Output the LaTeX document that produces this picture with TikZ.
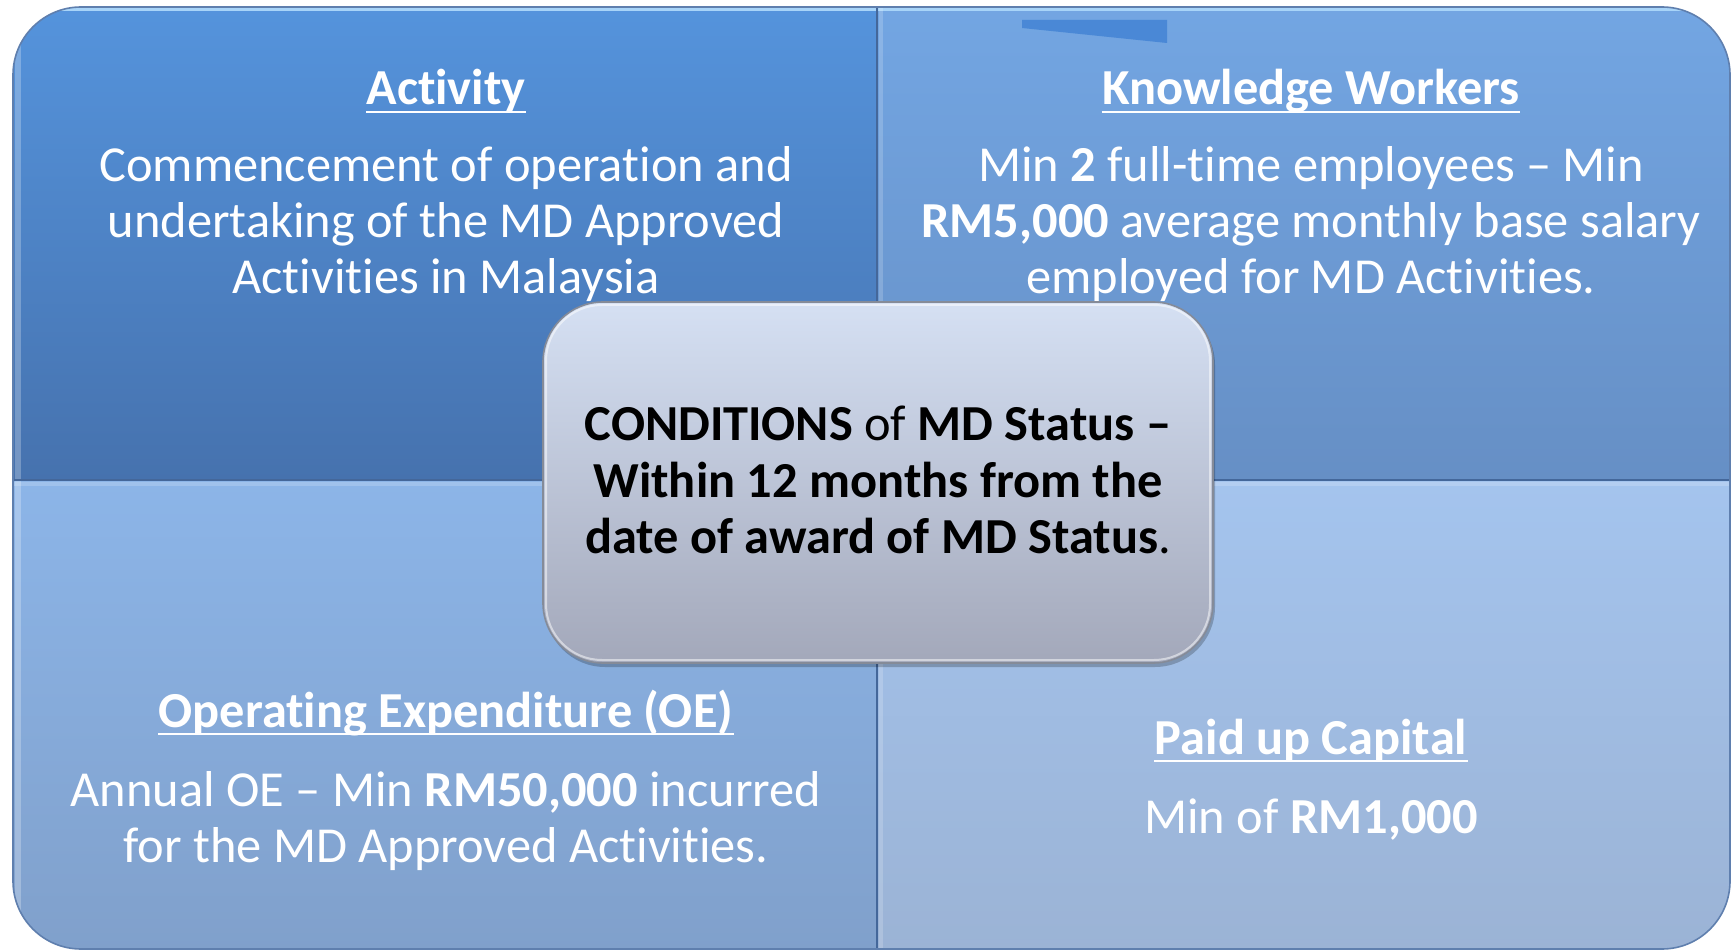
\documentclass[tikz,border=0pt]{standalone}
\usepackage{fontspec}
\setmainfont[Ligatures=NoCommon]{Carlito}
\definecolor{tlTop}{HTML}{5594DD}
\definecolor{tlBot}{HTML}{4672AE}
\definecolor{trTop}{HTML}{73A6E3}
\definecolor{trBot}{HTML}{668FC5}
\definecolor{blTop}{HTML}{8CB5E8}
\definecolor{blBot}{HTML}{80A0CB}
\definecolor{brTop}{HTML}{A4C4EE}
\definecolor{brBot}{HTML}{9BB3D5}
\definecolor{tabBlue}{HTML}{4A88D6}
\definecolor{dividerBlue}{HTML}{44679A}
\definecolor{rimBlue}{HTML}{5F7FAE}
\definecolor{glowBlue}{HTML}{A8D4F8}
\definecolor{ctrTop}{HTML}{D5E0F3}
\definecolor{ctrBot}{HTML}{A3A8BA}
\definecolor{ctrEdge}{HTML}{858B98}
\begin{document}
\begin{tikzpicture}[x=0.5pt,y=-0.5pt,
  body/.style={anchor=base, inner sep=0pt, text=white,
    font=\fontsize{25.2}{28}\selectfont},
  head/.style={body, font=\fontsize{25.2}{28}\selectfont\bfseries},
  centre/.style={anchor=base, inner sep=0pt, text=black,
    font=\fontsize{25.2}{28}\selectfont},
  ulline/.style={white, line width=1pt},
  divider/.style={dividerBlue, line width=1pt}]
\useasboundingbox (0,0) rectangle (1731,952);
\fill[white] (0,0) rectangle (1731,952);

% four shaded quadrants inside the rounded outer panel
\begin{scope}
  \clip[rounded corners=34pt] (13,7) rectangle (1730,949);
  \shade[top color=tlTop, bottom color=tlBot] (0,0) rectangle (877,480);
  \shade[top color=trTop, bottom color=trBot] (877,0) rectangle (1731,480);
  \shade[top color=blTop, bottom color=blBot] (0,480) rectangle (877,952);
  \shade[top color=brTop, bottom color=brBot] (877,480) rectangle (1731,952);
  % small tab near the top edge
  \fill[tabBlue] (1022,20) -- (1167,20) -- (1167,43) -- (1022,28) -- cycle;
  % bevel highlights
  \draw[glowBlue, line width=1.5pt] (0,10) -- (1731,10);
  \draw[white, opacity=0.25, line width=3pt] (18,0) -- (18,952);
  \draw[white, opacity=0.18, line width=2pt] (0,484) -- (1731,484);
  \draw[white, opacity=0.18, line width=2pt] (881,0) -- (881,952);
  % dividers
  \draw[divider] (877,0) -- (877,952);
  \draw[divider] (0,480) -- (1731,480);
\end{scope}
\draw[rimBlue, line width=0.8pt, rounded corners=34pt] (13,7) rectangle (1730,949);

% Activity
\node[head] (hAct) at (446,105) {Activity};
\node[body] (act1) at (446,182) {Commencement of operation and};
\node[body] (act2) at (446,238) {undertaking of the MD Approved};
\node[body] (act3) at (446,294) {Activities in Malaysia};

% Knowledge Workers
\node[head] (hKW) at (1311,105) {Knowledge Workers};
\node[body] (kw1) at (1311,182) {Min \textbf{2} full-time employees – Min};
\node[body] (kw2) at (1311,238) {\textbf{RM5,000} average monthly base salary};
\node[body] (kw3) at (1311,294) {employed for MD Activities.};

% Operating Expenditure
\node[head] (hOE) at (446,727) {Operating Expenditure (OE)};
\node[body] (oe1) at (446,806) {Annual OE – Min \textbf{RM50,000} incurred};
\node[body] (oe2) at (446,862) {for the MD Approved Activities.};

% Paid up Capital
\node[head] (hPC) at (1311,754) {Paid up Capital};
\node[body] (pc1) at (1311,833) {Min of \textbf{RM1,000}};

\foreach \h in {hAct,hKW,hOE,hPC}
  \draw[ulline] ([yshift=-3.5pt]\h.base west) -- ([yshift=-3.5pt]\h.base east);

% central conditions box
\fill[black, opacity=0.22, rounded corners=30pt] (545,305) rectangle (1215,667);
\shadedraw[top color=ctrTop, bottom color=ctrBot, draw=ctrEdge, line width=0.8pt,
  rounded corners=30pt] (543,302) rectangle (1213,663);
\draw[white, opacity=0.5, line width=1pt, rounded corners=28pt] (546,305) rectangle (1210,660);
\node[centre] (c1) at (878,441) {\textbf{CONDITIONS} of \textbf{MD Status –}};
\node[centre] (c2) at (878,497) {\textbf{Within 12 months from the}};
\node[centre] (c3) at (878,553) {\textbf{date of award of MD Status}.};
\end{tikzpicture}
\end{document}
